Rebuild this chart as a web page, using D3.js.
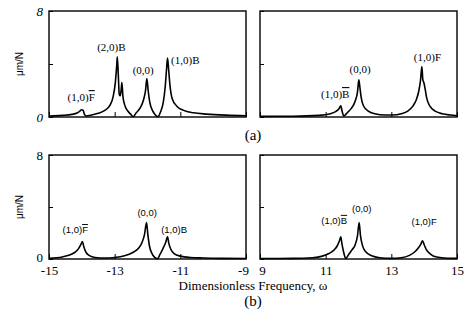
<!DOCTYPE html>
<html>
<head>
<meta charset="utf-8">
<script src="https://cdn.jsdelivr.net/npm/d3@7"></script>
<style>
  body { margin: 0; background: #fff; }
  svg { display: block; }
</style>
</head>
<body>
<div id="chart"></div>
<script>
// frequency response curves (omega, um/N)
const aLeftW = [-15, -14.6, -14.3, -14.15, -14.06, -14.01, -13.96, -13.92, -13.87, -13.7, -13.5, -13.3, -13.15, -13.05, -12.98, -12.94, -12.92, -12.89, -12.86, -12.83, -12.8, -12.78, -12.75, -12.7, -12.6, -12.5, -12.44, -12.35, -12.22, -12.12, -12.06, -12.02, -11.98, -11.93, -11.85, -11.76, -11.68, -11.6, -11.52, -11.46, -11.42, -11.39, -11.36, -11.32, -11.25, -11.1, -10.9, -10.6, -10.2, -9.6, -9];
const aLeftR = [0.08, 0.12, 0.2, 0.3, 0.45, 0.55, 0.5, 0.2, 0.08, 0.15, 0.28, 0.5, 0.85, 1.5, 2.6, 3.8, 4.55, 3.2, 1.7, 1.6, 2.1, 2.6, 1.6, 0.95, 0.45, 0.18, 0.02, 0.3, 0.7, 1.3, 2.0, 2.9, 2.0, 1.1, 0.5, 0.15, 0.02, 0.4, 1.1, 2.3, 3.6, 4.45, 3.7, 2.5, 1.4, 0.8, 0.5, 0.32, 0.22, 0.14, 0.1];

const aRightW = [9, 10, 10.8, 11.15, 11.3, 11.4, 11.46, 11.5, 11.55, 11.65, 11.78, 11.9, 11.97, 12.01, 12.04, 12.08, 12.15, 12.3, 12.5, 12.8, 13.05, 13.3, 13.5, 13.65, 13.76, 13.84, 13.89, 13.93, 13.96, 13.99, 14.03, 14.08, 14.18, 14.35, 14.55, 14.8, 15];
const aRightR = [0.05, 0.06, 0.12, 0.25, 0.4, 0.6, 0.85, 0.45, 0.08, 0.3, 0.65, 1.2, 1.9, 2.8, 2.3, 1.5, 0.85, 0.45, 0.25, 0.15, 0.15, 0.25, 0.45, 0.8, 1.3, 2.0, 2.8, 3.8, 2.8, 2.6, 2.1, 1.4, 0.8, 0.42, 0.25, 0.15, 0.1];

const bLeftW = [-15, -14.6, -14.4, -14.22, -14.1, -14.03, -13.98, -13.94, -13.88, -13.78, -13.6, -13.3, -13, -12.7, -12.45, -12.28, -12.17, -12.09, -12.03, -11.99, -11.94, -11.87, -11.78, -11.7, -11.62, -11.53, -11.45, -11.39, -11.35, -11.29, -11.18, -11.0, -10.7, -10.3, -9.7, -9];
const bLeftR = [0.05, 0.15, 0.28, 0.5, 0.8, 1.1, 1.35, 0.95, 0.55, 0.28, 0.12, 0.08, 0.12, 0.25, 0.5, 0.8, 1.25, 1.9, 2.8, 1.9, 1.0, 0.45, 0.12, 0.02, 0.35, 0.8, 1.25, 1.7, 1.2, 0.75, 0.4, 0.22, 0.12, 0.08, 0.05, 0.04];

const bRightW = [9, 10, 10.6, 10.9, 11.1, 11.25, 11.35, 11.42, 11.46, 11.5, 11.55, 11.61, 11.7, 11.8, 11.9, 11.97, 12.02, 12.06, 12.12, 12.22, 12.4, 12.65, 13.0, 13.3, 13.55, 13.7, 13.82, 13.9, 13.95, 14.0, 14.07, 14.18, 14.38, 14.7, 15];
const bRightR = [0.04, 0.05, 0.1, 0.22, 0.42, 0.68, 1.0, 1.4, 1.7, 1.1, 0.5, 0.04, 0.35, 0.7, 1.1, 1.8, 2.8, 1.8, 1.05, 0.55, 0.25, 0.1, 0.05, 0.1, 0.28, 0.52, 0.85, 1.15, 1.4, 1.1, 0.7, 0.4, 0.15, 0.06, 0.05];

const leftTicks = [-15, -13, -11, -9];
const rightTicks = [9, 11, 13, 15];
const yTicks = [0, 4, 8];

// peak annotations: [omega, um/N at baseline, text, letter]; letters in barred get an overline
const aLeftLabels = [[-14.02, 1.2, '(1,0)', 'F'], [-13.1, 5.0, '(2,0)', 'B'], [-12.13, 3.25, '(0,0)', ''], [-10.85, 4.0, '(1,0)', 'B']];
const aRightLabels = [[11.29, 1.43, '(1,0)', 'B'], [12.05, 3.3, '(0,0)', ''], [14.1, 4.2, '(1,0)', 'F']];
const bLeftLabels = [[-14.2, 2.0, '(1,0)', 'F'], [-12.01, 3.3, '(0,0)', ''], [-11.19, 2.0, '(1,0)', 'B']];
const bRightLabels = [[11.26, 2.7, '(1,0)', 'B'], [12.1, 3.6, '(0,0)', ''], [14.0, 2.6, '(1,0)', 'F']];
const barred = { aLeft: [0], aRight: [0], bLeft: [0], bRight: [0] };

const W = 470, H = 330;
const svg = d3.select('#chart').append('svg').attr('width', W).attr('height', H);
svg.append('rect').attr('width', W).attr('height', H).attr('fill', '#fff');

const xL = d3.scaleLinear().domain([-15, -9]).range([49, 246]);
const xR = d3.scaleLinear().domain([9, 15]).range([260, 457]);
const yA = d3.scaleLinear().domain([0, 8]).range([117, 11]);
const yB = d3.scaleLinear().domain([0, 8]).range([259, 155]);

const serif = '"Liberation Serif", "Times New Roman", serif';
const sans = '"Liberation Sans", Arial, sans-serif';

function panel(x, y, ws, rs, labels, barIdx, opts) {
  const g = svg.append('g');

  // y axis: inward ticks, labels only on left panels
  const ya = g.append('g')
    .attr('transform', 'translate(' + x.range()[0] + ',0)')
    .call(d3.axisLeft(y).tickValues(yTicks).tickSizeInner(-4).tickSizeOuter(0).tickPadding(6)
      .tickFormat(d => (opts.yLabels && d !== 4) ? d : ''));
  ya.select('.domain').remove();
  ya.selectAll('text').attr('font-family', serif).attr('font-size', 13)
    .attr('font-style', opts.italic ? 'italic' : 'normal').attr('fill', '#000')
    .attr('y', d => (d === 0 && opts.xLabels) ? -2 : 0);

  // x axis: inward ticks, labels only on bottom row
  const xa = g.append('g')
    .attr('transform', 'translate(0,' + y.range()[0] + ')')
    .call(d3.axisBottom(x).tickValues(opts.xTicks).tickSizeInner(-5).tickSizeOuter(0).tickPadding(7)
      .tickFormat(d => opts.xLabels ? String(d) : ''));
  xa.select('.domain').remove();
  xa.selectAll('line').attr('stroke-width', 1);
  xa.selectAll('text').attr('font-family', serif).attr('font-size', 13).attr('fill', '#000')
    .attr('dx', opts.dx ? (d => opts.dx[d] || 0) : 0);

  g.append('rect')
    .attr('x', x.range()[0]).attr('y', y.range()[1])
    .attr('width', x.range()[1] - x.range()[0])
    .attr('height', y.range()[0] - y.range()[1])
    .attr('fill', 'none').attr('stroke', '#000').attr('stroke-width', 1.4);

  const line = d3.line().x(d => x(d[0])).y(d => y(d[1])).curve(d3.curveMonotoneX);
  g.append('path')
    .datum(ws.map((w, i) => [w, rs[i]]))
    .attr('d', line)
    .attr('fill', 'none').attr('stroke', '#000').attr('stroke-width', 1.6)
    .attr('stroke-linejoin', 'round');

  labels.forEach((l, i) => {
    const t = g.append('text')
      .attr('x', x(l[0])).attr('y', y(l[1]))
      .attr('text-anchor', 'middle')
      .attr('font-family', opts.labelFont).attr('font-size', opts.labelSize)
      .attr('fill', '#000');
    t.append('tspan').text(l[2]);
    if (l[3]) {
      t.append('tspan').text(l[3])
        .style('text-decoration', barIdx.includes(i) ? 'overline' : 'none');
    }
  });
  return g;
}

panel(xL, yA, aLeftW, aLeftR, aLeftLabels, barred.aLeft,
  { yLabels: true, italic: true, xTicks: leftTicks, xLabels: false, labelFont: serif, labelSize: 11 });
panel(xR, yA, aRightW, aRightR, aRightLabels, barred.aRight,
  { yLabels: false, xTicks: rightTicks, xLabels: false, labelFont: serif, labelSize: 11 });
panel(xL, yB, bLeftW, bLeftR, bLeftLabels, barred.bLeft,
  { yLabels: true, xTicks: leftTicks, xLabels: true, labelFont: sans, labelSize: 9.5, dx: { '-9': -3 } });
panel(xR, yB, bRightW, bRightR, bRightLabels, barred.bRight,
  { yLabels: false, xTicks: rightTicks, xLabels: true, labelFont: sans, labelSize: 9.5, dx: { 9: 2 } });

// y titles
[yA, yB].forEach(y => {
  const cy = (y.range()[0] + y.range()[1]) / 2;
  svg.append('text')
    .attr('transform', 'translate(23,' + cy + ') rotate(-90)')
    .attr('text-anchor', 'middle')
    .attr('font-family', sans).attr('font-size', 10)
    .text('\u03bcm/N');
});

svg.append('text').attr('x', 253).attr('y', 140).attr('text-anchor', 'middle')
  .attr('font-family', serif).attr('font-size', 15).text('(a)');
svg.append('text').attr('x', 253).attr('y', 290).attr('text-anchor', 'middle')
  .attr('font-family', serif).attr('font-size', 13).text('Dimensionless Frequency, \u03c9');
svg.append('text').attr('x', 253).attr('y', 306).attr('text-anchor', 'middle')
  .attr('font-family', serif).attr('font-size', 15).text('(b)');
</script>
</body>
</html>
